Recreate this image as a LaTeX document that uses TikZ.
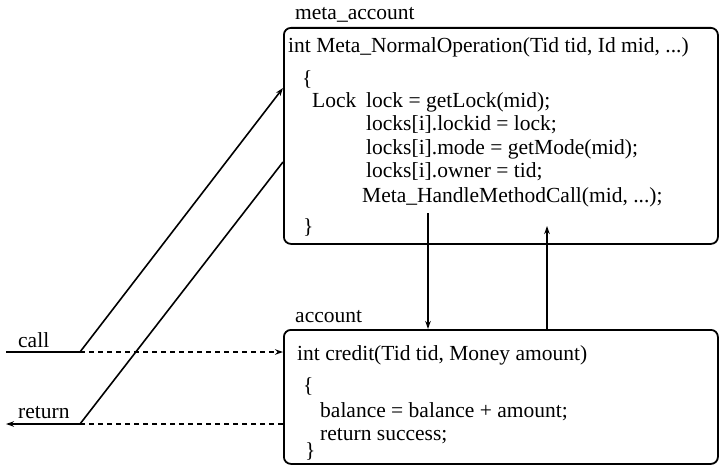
\documentclass[tikz,border=0pt]{standalone}
\usepackage{fontspec}
\setmainfont{Liberation Serif}
\usetikzlibrary{positioning,arrows.meta}

\begin{document}
\begin{tikzpicture}[x=1pt, y=-1pt, >={Stealth[length=8pt,width=5.5pt]},
    box/.style = {draw, line width=1.8pt, rounded corners=7pt, anchor=north west, inner sep=0pt},
    code/.style = {anchor=base west, inner sep=0pt, font=\fontsize{21.5}{24}\selectfont},
    link/.style = {line width=1.6pt},
    dots/.style = {line width=1.5pt, dash pattern=on 5pt off 4pt}]
    \useasboundingbox (0,0) rectangle (719,465);

    % the two objects
    \node[box, minimum width=434pt, minimum height=216pt] (meta) at (283,27)  {};
    \node[box, minimum width=434pt, minimum height=134pt] (acct) at (283,329) {};
    \node[code] (metatag) at (295,20)  {meta\_account};
    \node[code] (accttag) at (295,322) {account};

    % meta level method
    \node[code] (m1) at (288,53)  {int Meta\_NormalOperation(Tid tid, Id mid, ...)};
    \node[code] (m2) at (302,86)  {\{};
    \node[code] (m3) at (312,108) {Lock};
    \node[code] (m4) at (366,108) {lock = getLock(mid);};
    \node[code] (m5) at (366,131) {locks[i].lockid = lock;};
    \node[code] (m6) at (366,154) {locks[i].mode = getMode(mid);};
    \node[code] (m7) at (366,177) {locks[i].owner = tid;};
    \node[code] (m8) at (362,202) {Meta\_HandleMethodCall(mid, ...);};
    \node[code] (m9) at (303,233) {\}};

    % base level method
    \node[code] (a1) at (297,360) {int credit(Tid tid, Money amount)};
    \node[code] (a2) at (303,392) {\{};
    \node[code] (a3) at (320,417) {balance = balance + amount;};
    \node[code] (a4) at (320,440) {return success;};
    \node[code] (a5) at (305,457) {\}};

    % caller side
    \node[code] (call) at (18,347) {call};
    \node[code] (ret)  at (18,418) {return};
    \coordinate (callin)  at (6,352);
    \coordinate (callk)   at (80,352);
    \coordinate (retout)  at (6,424);
    \coordinate (retk)    at (80,424);
    \coordinate (metain)  at (283,88);
    \coordinate (metaout) at (283,162);
    \coordinate (down)    at (428,213);
    \coordinate (up)      at (547,226);

    \draw[link] (callin) -- (callk);
    \draw[link, ->] (callk) -- (metain);
    \draw[dots, ->] (callk) -- (callk -| acct.west);
    \draw[link] (metaout) -- (retk);
    \draw[dots] (retk -| acct.west) -- (retk);
    \draw[link, ->] (retk) -- (retout);

    \draw[link, ->] (down) -- (down |- acct.north);
    \draw[link, ->] (up |- acct.north) -- (up);
\end{tikzpicture}
\end{document}
